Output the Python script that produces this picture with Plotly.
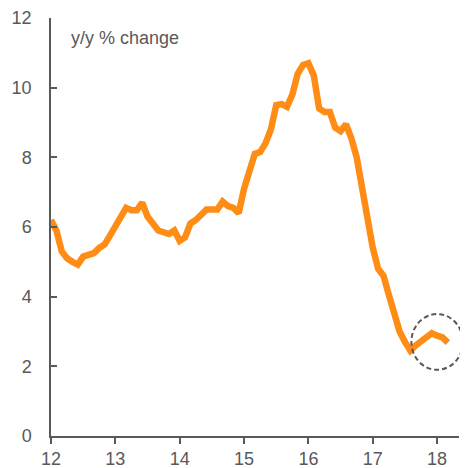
import plotly.graph_objects as go

start_year = 12
values = [6.2, 5.9, 5.3, 5.1, 5.0, 4.92, 5.15, 5.2, 5.25, 5.4, 5.5, 5.75,
          6.05, 6.25, 6.55, 6.48, 6.48, 6.7, 6.3, 6.1, 5.9, 5.85, 5.8, 5.9,
          5.6, 5.7, 6.1, 6.2, 6.35, 6.5, 6.5, 6.5, 6.73, 6.6, 6.55, 6.4,
          7.1, 7.65, 8.1, 8.15, 8.4, 8.8, 9.5, 9.53, 9.45, 9.8, 10.4, 10.65,
          10.7, 10.35, 9.4, 9.3, 9.3, 8.85, 8.75, 8.95, 8.55, 8.0, 7.1, 6.3,
          5.4, 4.8, 4.6, 4.05, 3.55, 3.0, 2.7, 2.45, 2.6, 2.72, 2.82, 2.95,
          2.88, 2.83, 2.68]
x_ticks = [12, 13, 14, 15, 16, 17, 18]
y_ticks = [0, 2, 4, 6, 8, 10, 12]
label = "y/y % change"
highlight_center = (18.0, 2.70)
highlight_radius = (0.40, 0.80)

x_range = [12, 18.34]
y_range = [0, 12]

x = [start_year + i / 12 for i in range(len(values))]

grey = "#595959"
fig = go.Figure()
fig.add_trace(go.Scatter(x=x, y=values, mode="lines",
                         line=dict(color="#FF8C14", width=6.5),
                         hoverinfo="skip", showlegend=False))

# dashed circle (not clipped to plot area): domain coords from axis ranges
def fx(v):
    return (v - x_range[0]) / (x_range[1] - x_range[0])

def fy(v):
    return (v - y_range[0]) / (y_range[1] - y_range[0])

cx, cy = highlight_center
rx, ry = highlight_radius
fig.add_shape(type="circle", xref="x domain", yref="y domain",
              x0=fx(cx - rx), x1=fx(cx + rx), y0=fy(cy - ry), y1=fy(cy + ry),
              line=dict(color=grey, width=2, dash="5px,3px"))

fig.add_annotation(text=label, xref="paper", yref="paper", x=0.045, y=0.952,
                   xanchor="left", yanchor="middle", showarrow=False,
                   font=dict(size=18, color=grey))

# page body has an 8px margin, so the figure is 460px and offset accordingly
fig.update_layout(
    width=460, height=460,
    margin=dict(l=43, r=9, t=10, b=32, autoexpand=False),
    paper_bgcolor="white", plot_bgcolor="white",
    font=dict(family="Liberation Sans, Arial, sans-serif", size=18, color=grey),
    xaxis=dict(range=x_range, tickvals=x_ticks, ticktext=[str(t) for t in x_ticks],
               showgrid=False, zeroline=False, showline=True, linecolor=grey,
               linewidth=1.5, ticks="outside", ticklen=6, tickcolor=grey, tickwidth=1.5,
               automargin=False),
    yaxis=dict(range=y_range, tickvals=y_ticks, showgrid=False, zeroline=False,
               showline=True, linecolor=grey, linewidth=1.5, ticks="inside",
               ticklen=6, tickcolor=grey, tickwidth=1.5, ticklabelstandoff=14,
               automargin=False),
)

fig.write_html("out.html")
